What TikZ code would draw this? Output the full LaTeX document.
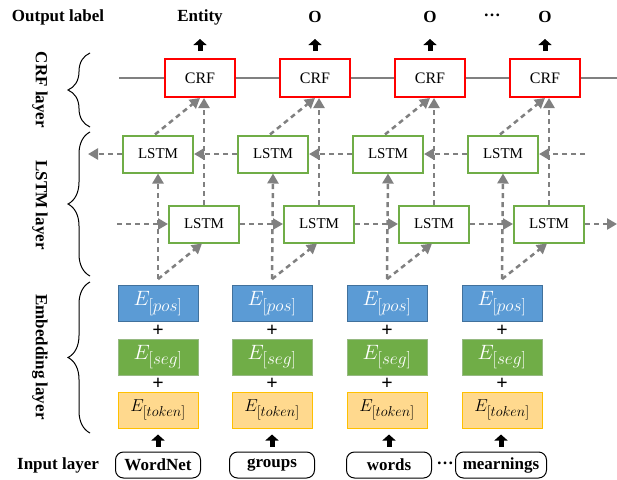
\documentclass[tikz,border=0pt]{standalone}
\usepackage{fontspec}
\setmainfont{Liberation Serif}
\usetikzlibrary{arrows.meta,decorations.pathreplacing}
\DeclareMathSizes{21}{21}{16}{12}
\DeclareMathSizes{18}{18}{14}{10}

\definecolor{crfred}{RGB}{255,0,0}
\definecolor{lstmgreen}{RGB}{112,173,71}
\definecolor{posblue}{RGB}{91,155,213}
\definecolor{posedge}{RGB}{65,113,156}
\definecolor{seggreen}{RGB}{112,173,71}
\definecolor{segedge}{RGB}{150,185,130}
\definecolor{tokfill}{RGB}{255,217,142}
\definecolor{tokedge}{RGB}{255,192,0}
\definecolor{flowgray}{RGB}{128,128,128}

\begin{document}
\begin{tikzpicture}[x=1pt,y=-1pt,
	crfbox/.style={draw=crfred, line width=2pt, fill=white, minimum width=70pt, minimum height=38pt, font=\fontsize{16}{18}\selectfont},
	lstmbox/.style={draw=lstmgreen, line width=2pt, fill=white, minimum width=70pt, minimum height=37pt, font=\fontsize{15}{17}\selectfont},
	embbox/.style={line width=0.8pt, minimum width=80pt, minimum height=36pt, inner sep=0pt},
	posbox/.style={embbox, fill=posblue, draw=posedge, text=white, font=\fontsize{21}{24}\selectfont},
	segbox/.style={embbox, fill=seggreen, draw=segedge, text=white, font=\fontsize{21}{24}\selectfont},
	tokbox/.style={embbox, fill=tokfill, draw=tokedge, font=\fontsize{18}{20}\selectfont},
	inbox/.style={draw, rounded corners=8pt, line width=1pt, minimum width=85pt, minimum height=26pt, inner sep=2pt, font=\bfseries\fontsize{17}{19}\selectfont},
	lbl/.style={font=\bfseries\fontsize{17}{19}\selectfont},
	plus/.style={font=\bfseries\fontsize{20}{22}\selectfont},
	flow/.style={draw=flowgray, line width=2.5pt, dash pattern=on 5pt off 4pt, -{Triangle[width=11pt,length=10pt]}},
	blk/.style={line width=5pt, -{Triangle[width=13pt,length=6pt]}},
	crfline/.style={draw=flowgray, line width=2pt},
	brc/.style={decorate, decoration={brace, amplitude=22pt}, line width=1pt}]
	\useasboundingbox (0,0) rectangle (617,479);

	% labels of the layers
	\draw (58,17) node(lout) [lbl] {Output label};
	\draw (40,90) node(lcrf) [lbl, rotate=-90] {CRF layer};
	\draw (40,205) node(llstm) [lbl, rotate=-90] {LSTM layer};
	\draw (40,357) node(lemb) [lbl, rotate=-90] {Embedding layer};
	\draw (58,465) node(lin) [lbl] {Input layer};
	\draw[brc] (90,127) -- (90,53);
	\draw[brc] (90,276) -- (90,132);
	\draw[brc] (90,433) -- (90,282);

	% output labels
	\draw (200,17) node(out1) [lbl] {Entity};
	\draw (315,17) node(out2) [lbl] {O};
	\draw (430,17) node(out3) [lbl] {O};
	\draw (492,15) node(odots) [lbl] {…};
	\draw (545,17) node(out4) [lbl] {O};

	% CRF
	\draw (200,78) node(crf1) [crfbox] {CRF};
	\draw (315,78) node(crf2) [crfbox] {CRF};
	\draw (430,78) node(crf3) [crfbox] {CRF};
	\draw (545,78) node(crf4) [crfbox] {CRF};
	\coordinate (crfl) at (119,78);
	\coordinate (crfr) at (617,78);

	% LSTM, backward and forward
	\draw (158,154) node(bw1) [lstmbox] {LSTM};
	\draw (273,154) node(bw2) [lstmbox] {LSTM};
	\draw (388,154) node(bw3) [lstmbox] {LSTM};
	\draw (503,154) node(bw4) [lstmbox] {LSTM};
	\draw (204,224) node(fw1) [lstmbox] {LSTM};
	\draw (319,224) node(fw2) [lstmbox] {LSTM};
	\draw (434,224) node(fw3) [lstmbox] {LSTM};
	\draw (549,224) node(fw4) [lstmbox] {LSTM};
	\coordinate (bwin) at (585,154);
	\coordinate (bwout) at (88,154);
	\coordinate (fwin) at (117,224);
	\coordinate (fwout) at (617,224);

	% embeddings
	\draw (158,303.5) node(pos1) [posbox] {$E_{[pos]}$};
	\draw (272,303.5) node(pos2) [posbox] {$E_{[pos]}$};
	\draw (387,303.5) node(pos3) [posbox] {$E_{[pos]}$};
	\draw (502,303.5) node(pos4) [posbox] {$E_{[pos]}$};
	\draw (158,357) node(seg1) [segbox] {$E_{[seg]}$};
	\draw (272,357) node(seg2) [segbox] {$E_{[seg]}$};
	\draw (387,357) node(seg3) [segbox] {$E_{[seg]}$};
	\draw (502,357) node(seg4) [segbox] {$E_{[seg]}$};
	\draw (158,410) node(tok1) [tokbox] {$E_{[token]}$};
	\draw (272,410) node(tok2) [tokbox] {$E_{[token]}$};
	\draw (387,410) node(tok3) [tokbox] {$E_{[token]}$};
	\draw (502,410) node(tok4) [tokbox] {$E_{[token]}$};
	\draw (158,330.5) node(pa1) [plus] {+};
	\draw (272,330.5) node(pa2) [plus] {+};
	\draw (387,330.5) node(pa3) [plus] {+};
	\draw (502,330.5) node(pa4) [plus] {+};
	\draw (158,383.5) node(pb1) [plus] {+};
	\draw (272,383.5) node(pb2) [plus] {+};
	\draw (387,383.5) node(pb3) [plus] {+};
	\draw (502,383.5) node(pb4) [plus] {+};

	% inputs
	\draw (158,465) node(in1) [inbox] {WordNet};
	\draw (272,465) node(in2) [inbox] {groups};
	\draw (389,465) node(in3) [inbox] {words};
	\draw (445,463) node(idots) [lbl] {…};
	\draw (501,465) node(in4) [inbox, minimum width=91pt] {mearnings};

	% CRF chain
	\path[crfline] (crfl) -- (crf1);
	\path[crfline] (crf1) -- (crf2);
	\path[crfline] (crf2) -- (crf3);
	\path[crfline] (crf3) -- (crf4);
	\path[crfline] (crf4) -- (crfr);

	% LSTM chains
	\path[flow] (bwin) -- (bw4);
	\path[flow] (bw4) -- (bw3);
	\path[flow] (bw3) -- (bw2);
	\path[flow] (bw2) -- (bw1);
	\path[flow] (bw1) -- (bwout);
	\path[flow] (fwin) -- (fw1);
	\path[flow] (fw1) -- (fw2);
	\path[flow] (fw2) -- (fw3);
	\path[flow] (fw3) -- (fw4);
	\path[flow] (fw4) -- (fwout);

	% embeddings up to LSTM, LSTM up to CRF
	\path[flow] ([yshift=6pt]pos1.north) -- (bw1.south);
	\path[flow] ([yshift=6pt]pos2.north) -- (bw2.south);
	\path[flow] ([yshift=6pt]pos3.north) -- (bw3.south);
	\path[flow] ([yshift=6pt]pos4.north) -- (bw4.south);
	\path[flow] ([yshift=6pt]pos1.north) -- ([xshift=-2pt]fw1.south);
	\path[flow] ([yshift=6pt]pos2.north) -- ([xshift=-2pt]fw2.south);
	\path[flow] ([yshift=6pt]pos3.north) -- ([xshift=-2pt]fw3.south);
	\path[flow] ([yshift=6pt]pos4.north) -- ([xshift=-2pt]fw4.south);
	\path[flow] ([xshift=-3pt]bw1.north) -- (crf1.south);
	\path[flow] ([xshift=-3pt]bw2.north) -- (crf2.south);
	\path[flow] ([xshift=-3pt]bw3.north) -- (crf3.south);
	\path[flow] ([xshift=-3pt]bw4.north) -- (crf4.south);
	\path[flow] (fw1.north) -- (fw1.north |- crf1.south);
	\path[flow] (fw2.north) -- (fw2.north |- crf2.south);
	\path[flow] (fw3.north) -- (fw3.north |- crf3.south);
	\path[flow] (fw4.north) -- (fw4.north |- crf4.south);

	% black arrows
	\draw[blk] ([yshift=7pt]crf1.north) -- ([yshift=19pt]crf1.north);
	\draw[blk] ([yshift=7pt]crf2.north) -- ([yshift=19pt]crf2.north);
	\draw[blk] ([yshift=7pt]crf3.north) -- ([yshift=19pt]crf3.north);
	\draw[blk] ([yshift=7pt]crf4.north) -- ([yshift=19pt]crf4.north);
	\draw[blk] ([yshift=5pt]in1.north) -- ([yshift=17pt]in1.north);
	\draw[blk] ([yshift=5pt]in2.north) -- ([yshift=17pt]in2.north);
	\draw[blk] ([yshift=5pt]in3.north) -- ([yshift=17pt]in3.north);
	\draw[blk] ([yshift=5pt]in4.north) -- ([yshift=17pt]in4.north);
\end{tikzpicture}
\end{document}
